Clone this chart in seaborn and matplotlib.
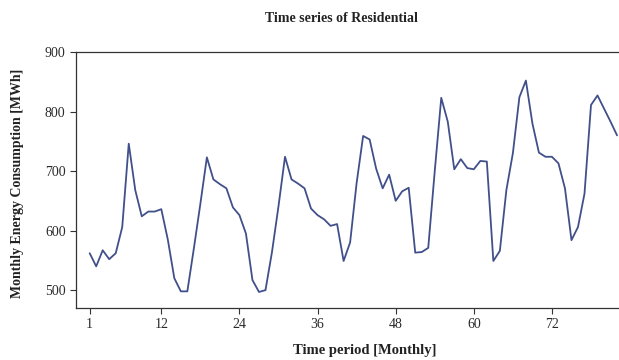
import matplotlib
matplotlib.use("Agg")
import matplotlib.pyplot as plt
import seaborn as sns
import pandas as pd

months = list(range(1, 83))
consumption = [
    562, 540, 567, 552, 562, 606, 746, 668, 624, 632, 632, 636,
    585, 520, 498, 498, 570, 645, 723, 686, 678, 671, 639, 626,
    595, 517, 497, 500, 564, 641, 724, 686, 679, 671, 637, 626,
    619, 608, 611, 549, 580, 680, 759, 753, 704, 671, 694, 650,
    666, 672, 563, 564, 571, 700, 823, 783, 703, 720, 705, 703,
    717, 716, 549, 566, 668, 730, 824, 852, 780, 731, 724, 724,
    713, 671, 584, 606, 662, 811, 827, 805, 783, 760,
]
x_ticks = [1, 12, 24, 36, 48, 60, 72]
y_ticks = [500, 600, 700, 800, 900]

sns.set_style("ticks")
plt.rcParams["font.family"] = ["Liberation Serif", "DejaVu Serif"]

df = pd.DataFrame({"month": months, "value": consumption})

fig = plt.figure(figsize=(6.19, 3.6), dpi=100)
ax = fig.add_axes([0.1228, 0.1444, 0.8772, 0.7112])
sns.lineplot(data=df, x="month", y="value", ax=ax, color="#41508a", linewidth=1.3)

ax.set_xlim(-1.1, 82.3)
ax.set_ylim(470, 900)
ax.set_xticks(x_ticks)
ax.set_yticks(y_ticks)
ax.tick_params(axis="both", labelsize=10, length=4, width=0.8, colors="#333333",
               labelcolor="#2a2a2a", direction="out")
for s in ["left", "bottom", "top"]:
    ax.spines[s].set_color("#333333")
    ax.spines[s].set_linewidth(0.9)
ax.spines["right"].set_visible(False)

ax.set_xlabel("")
ax.set_ylabel("")
fig.text(0.590, 0.026, "Time period [Monthly]", ha="center", va="center",
         fontsize=10.5, fontweight="bold", color="#222222")
fig.text(0.029, 0.49, "Monthly Energy Consumption [MWh]", ha="center", va="center",
         rotation=90, fontsize=10, fontweight="bold", color="#222222")
fig.text(0.551, 0.95, "Time series of Residential", ha="center", va="center",
         fontsize=10, fontweight="bold", color="#222222")

fig.savefig("out.png", dpi=100)
